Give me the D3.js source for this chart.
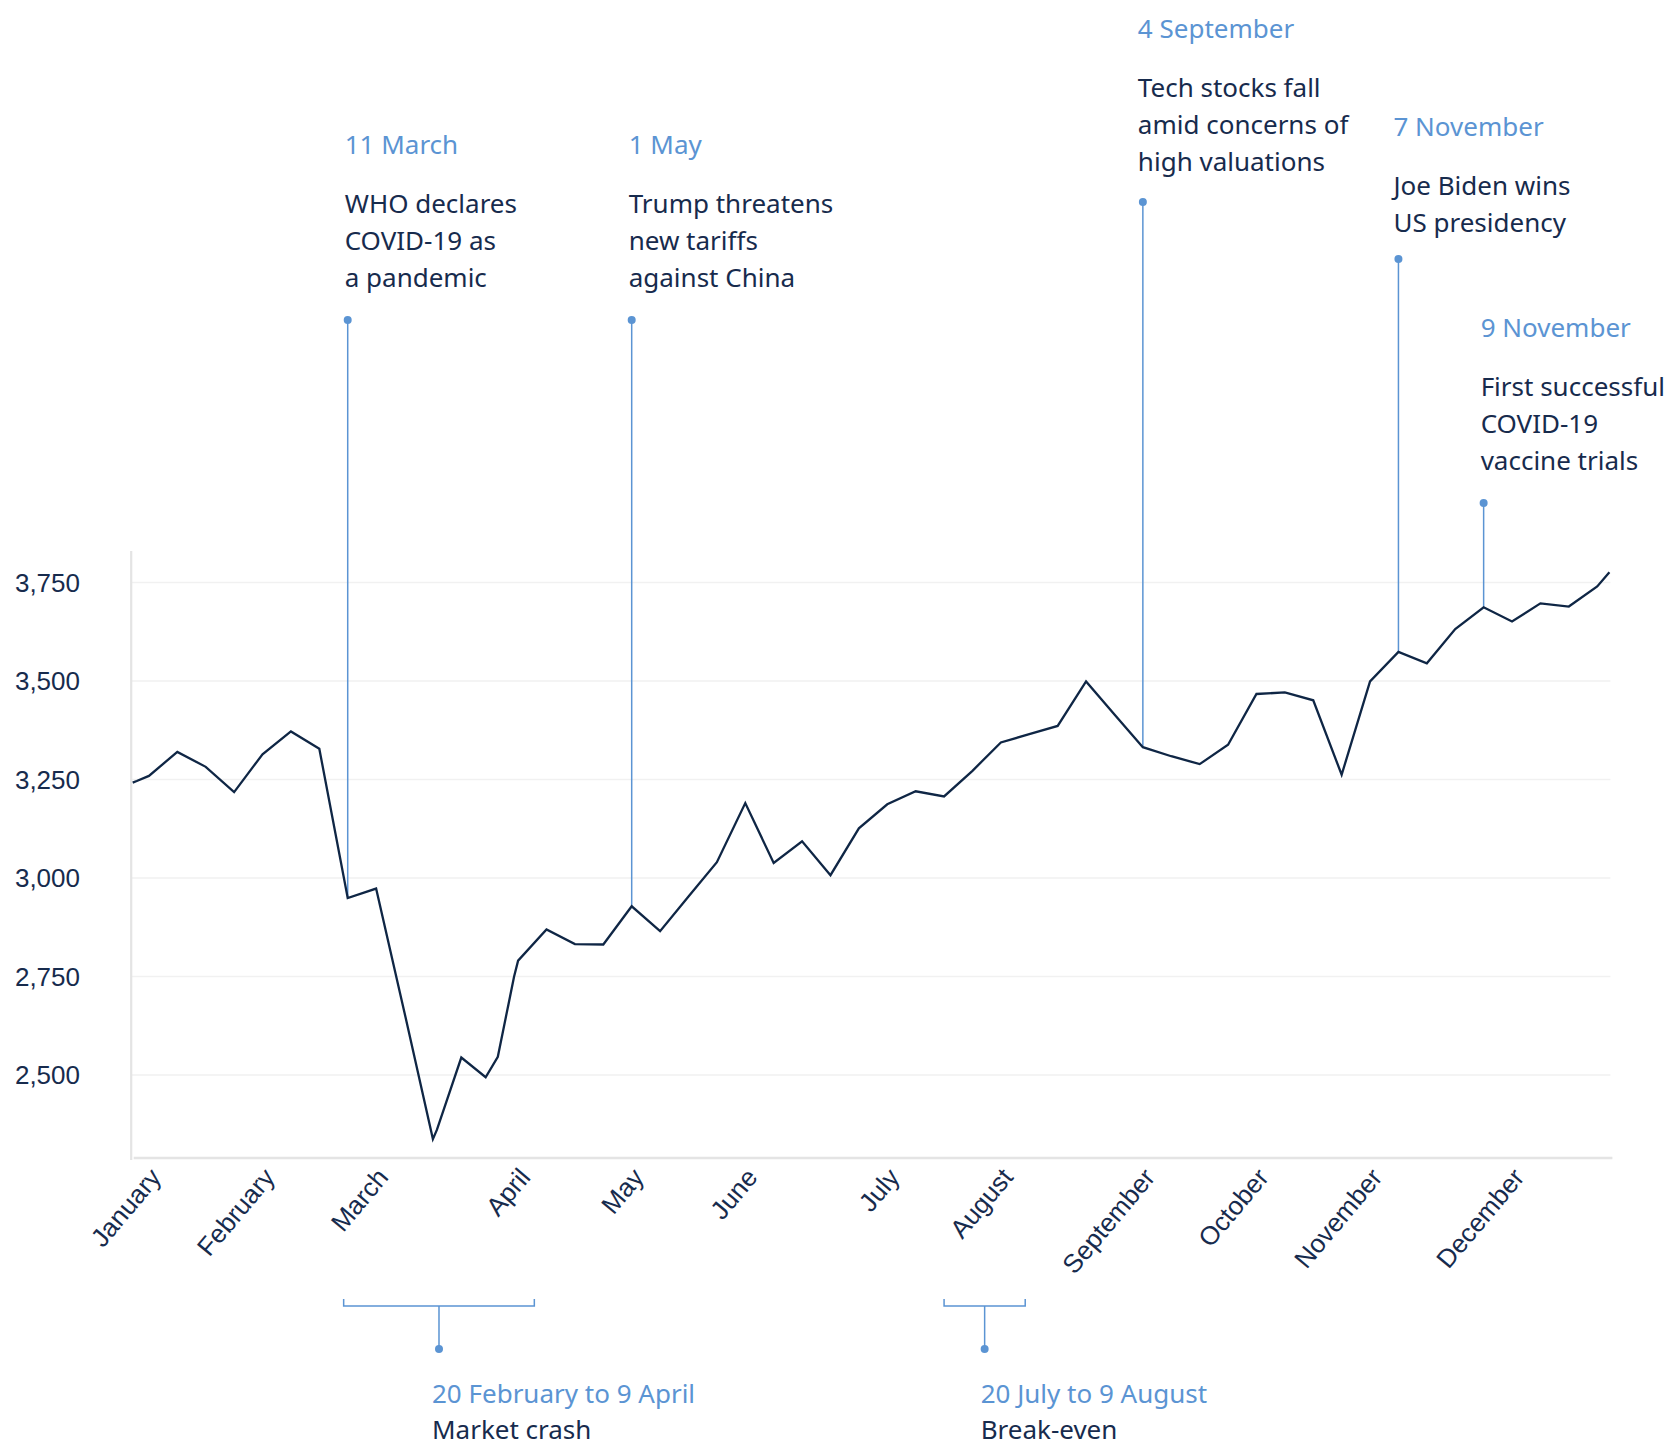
<!DOCTYPE html>
<html>
<head>
<meta charset="utf-8">
<script src="https://cdn.jsdelivr.net/npm/d3@7"></script>
<style>
    body { margin: 0; background: #ffffff; }
    .note_date { font-family: "Noto Sans", sans-serif; font-size: 26px; fill: #5b94d3; }
    .note_text { font-family: "Noto Sans", sans-serif; font-size: 26px; fill: #172b4d; }
    .tick_label { font-family: "Liberation Sans", Arial, sans-serif; fill: #172b4d; }
</style>
</head>
<body>
<div id="viz"></div>
<script>

let week_dates = [
    "2020-01-02", "2020-01-03", "2020-01-06", "2020-01-13", "2020-01-20", "2020-01-27",
    "2020-02-03", "2020-02-10", "2020-02-17", "2020-02-24",
    "2020-03-02", "2020-03-09", "2020-03-16", "2020-03-17", "2020-03-23", "2020-03-29",
    "2020-04-01", "2020-04-05", "2020-04-06", "2020-04-13", "2020-04-20", "2020-04-27",
    "2020-05-04", "2020-05-11", "2020-05-18", "2020-05-25",
    "2020-06-01", "2020-06-08", "2020-06-15", "2020-06-22", "2020-06-29",
    "2020-07-06", "2020-07-13", "2020-07-20", "2020-07-27",
    "2020-08-03", "2020-08-10", "2020-08-17", "2020-08-24", "2020-08-31",
    "2020-09-07", "2020-09-14", "2020-09-21", "2020-09-28",
    "2020-10-05", "2020-10-12", "2020-10-19", "2020-10-26",
    "2020-11-02", "2020-11-09", "2020-11-16", "2020-11-23", "2020-11-30",
    "2020-12-07", "2020-12-14", "2020-12-21", "2020-12-28", "2020-12-31"
];

let index_values = [
    3241, 3245, 3258, 3319, 3281, 3217,
    3313, 3371, 3327, 2948,
    2972, 2657, 2336, 2360, 2543, 2493,
    2545, 2748, 2789, 2868, 2831, 2830,
    2927, 2864, 2952, 3039,
    3189, 3037, 3092, 3006, 3125,
    3186, 3219, 3206, 3271,
    3343, 3364, 3385, 3498, 3414,
    3331, 3308, 3288, 3337,
    3466, 3470, 3450, 3261,
    3498, 3573, 3544, 3631, 3686,
    3650, 3696, 3688, 3739, 3775
];

let month_dates = ["2020-01-06", "2020-02-03", "2020-03-02", "2020-04-06", "2020-05-04", "2020-06-01",
                   "2020-07-06", "2020-08-03", "2020-09-07", "2020-10-05", "2020-11-02", "2020-12-07"];
let month_labels = ["January", "February", "March", "April", "May", "June",
                    "July", "August", "September", "October", "November", "December"];

let y_ticks = [2500, 2750, 3000, 3250, 3500, 3750];

let event_dates = ["2020-02-24", "2020-05-04", "2020-09-07", "2020-11-09", "2020-11-30"];
let event_titles = ["11 March", "1 May", "4 September", "7 November", "9 November"];
let event_texts = [
    ["WHO declares", "COVID-19 as", "a pandemic"],
    ["Trump threatens", "new tariffs", "against China"],
    ["Tech stocks fall", "amid concerns of", "high valuations"],
    ["Joe Biden wins", "US presidency"],
    ["First successful", "COVID-19", "vaccine trials"]
];

let period_starts = ["2020-02-23", "2020-07-20"];
let period_ends = ["2020-04-10", "2020-08-09"];
let period_titles = ["20 February to 9 April", "20 July to 9 August"];
let period_texts = ["Market crash", "Break-even"];


let width_svg = 1678, height_svg = 1444;
let plot_left = 132.7, plot_right = 1609.4;
let plot_top = 551, plot_bottom = 1158;
let line_colour = "#0f2645";
let note_colour = "#5b94d3";

// layout of the notes (text block baseline, pin height, nudge)
let event_text_y = [154, 154, 38, 136, 337];
let event_pin_y = [320, 320, 202, 259, 503];
let event_text_dx = [-3, -3, -5, -5, -3];
let period_text_dx = [-7, -4];

let parse_date = d3.timeParse("%Y-%m-%d");

function draw_chart(to_plot){
    d3.select(to_plot).select("svg").remove();

    let svg = d3.select(to_plot)
        .append("svg")
        .attr("width", width_svg)
        .attr("height", height_svg);

    let points = week_dates.map(function(d, i){
        return {"date": parse_date(d), "value": index_values[i]};
    });

    let x_scale = d3.scaleTime()
        .domain([parse_date("2020-01-02"), parse_date("2020-12-31")])
        .range([plot_left, plot_right]);

    let y_scale = d3.scaleLinear()
        .domain([2288, 3829])
        .range([plot_bottom, plot_top]);

    // grid
    let grid = svg.append("g")
        .attr("transform", "translate(" + (plot_left - 1) + ",0)")
        .call(d3.axisLeft(y_scale)
            .tickValues(y_ticks)
            .tickSize(-(plot_right - plot_left + 2))
            .tickFormat(""));
    grid.select(".domain").remove();
    grid.selectAll("line")
        .attr("stroke", "#f1f1f1")
        .attr("stroke-width", 1.5);

    // y labels
    let y_axis = svg.append("g")
        .attr("transform", "translate(80,0)")
        .call(d3.axisLeft(y_scale)
            .tickValues(y_ticks)
            .tickSize(0)
            .tickPadding(0)
            .tickFormat(d3.format(",")));
    y_axis.select(".domain").remove();
    y_axis.selectAll("text")
        .attr("class", "tick_label")
        .style("font-size", "26px")
        .attr("dy", "0.36em");

    // axis lines
    svg.append("line")
        .attr("x1", plot_left - 1.5).attr("x2", plot_left - 1.5)
        .attr("y1", plot_top).attr("y2", plot_bottom + 2)
        .attr("stroke", "#e4e4e4")
        .attr("stroke-width", 2.2);

    let x_axis = svg.append("g")
        .attr("transform", "translate(0," + plot_bottom + ")")
        .call(d3.axisBottom(x_scale)
            .tickValues(month_dates.map(parse_date))
            .tickSize(0)
            .tickFormat(function(d, i){ return month_labels[i]; }));
    x_axis.select(".domain")
        .attr("d", "M" + (plot_left + 1) + ",0H" + (plot_right + 3))
        .attr("stroke", "#e4e4e4")
        .attr("stroke-width", 2.6);
    x_axis.selectAll("text")
        .attr("class", "tick_label")
        .style("font-size", "26px")
        .attr("x", 0).attr("y", 0).attr("dy", 0)
        .attr("text-anchor", "end")
        .attr("transform", "translate(13,20) rotate(-50)");

    // event pins
    let events = svg.selectAll(".event")
        .data(event_dates)
        .enter()
        .append("g")
        .attr("class", "event");

    events.append("line")
        .attr("x1", function(d){ return x_scale(parse_date(d)); })
        .attr("x2", function(d){ return x_scale(parse_date(d)); })
        .attr("y1", function(d, i){ return event_pin_y[i]; })
        .attr("y2", function(d){
            let p = points.find(function(q){ return +q.date === +parse_date(d); });
            return y_scale(p.value);
        })
        .attr("stroke", note_colour)
        .attr("stroke-width", 1.5);

    events.append("circle")
        .attr("cx", function(d){ return x_scale(parse_date(d)); })
        .attr("cy", function(d, i){ return event_pin_y[i]; })
        .attr("r", 4)
        .attr("fill", note_colour);

    events.append("text")
        .attr("class", "note_date")
        .attr("x", function(d, i){ return x_scale(parse_date(d)) + event_text_dx[i]; })
        .attr("y", function(d, i){ return event_text_y[i]; })
        .text(function(d, i){ return event_titles[i]; });

    events.each(function(d, i){
        let g = d3.select(this);
        event_texts[i].forEach(function(t, j){
            g.append("text")
                .attr("class", "note_text")
                .attr("x", x_scale(parse_date(d)) + event_text_dx[i])
                .attr("y", event_text_y[i] + 58.5 + j*37)
                .text(t);
        });
    });

    // data line
    let line_path = d3.line()
        .x(function(d){ return x_scale(d.date); })
        .y(function(d){ return y_scale(d.value); });

    svg.append("path")
        .datum(points)
        .attr("d", line_path)
        .attr("fill", "none")
        .attr("stroke", line_colour)
        .attr("stroke-width", 2.3)
        .attr("stroke-linejoin", "miter");

    // period brackets
    let bracket_y = 1306;
    let periods = svg.selectAll(".period")
        .data(period_starts)
        .enter()
        .append("g")
        .attr("class", "period");

    periods.append("path")
        .attr("d", function(d, i){
            let x0 = x_scale(parse_date(d));
            let x1 = x_scale(parse_date(period_ends[i]));
            return "M" + x0 + "," + (bracket_y - 7) + "V" + bracket_y + "H" + x1 + "V" + (bracket_y - 7);
        })
        .attr("fill", "none")
        .attr("stroke", note_colour)
        .attr("stroke-width", 1.5);

    periods.each(function(d, i){
        let g = d3.select(this);
        let mid = (x_scale(parse_date(d)) + x_scale(parse_date(period_ends[i])))/2;
        g.append("line")
            .attr("x1", mid).attr("x2", mid)
            .attr("y1", bracket_y).attr("y2", bracket_y + 43)
            .attr("stroke", note_colour)
            .attr("stroke-width", 1.5);
        g.append("circle")
            .attr("cx", mid).attr("cy", bracket_y + 43)
            .attr("r", 4)
            .attr("fill", note_colour);
        g.append("text")
            .attr("class", "note_date")
            .attr("x", mid + period_text_dx[i])
            .attr("y", 1403)
            .text(period_titles[i]);
        g.append("text")
            .attr("class", "note_text")
            .attr("x", mid + period_text_dx[i])
            .attr("y", 1439)
            .text(period_texts[i]);
    });
}

draw_chart("#viz");

</script>
</body>
</html>
